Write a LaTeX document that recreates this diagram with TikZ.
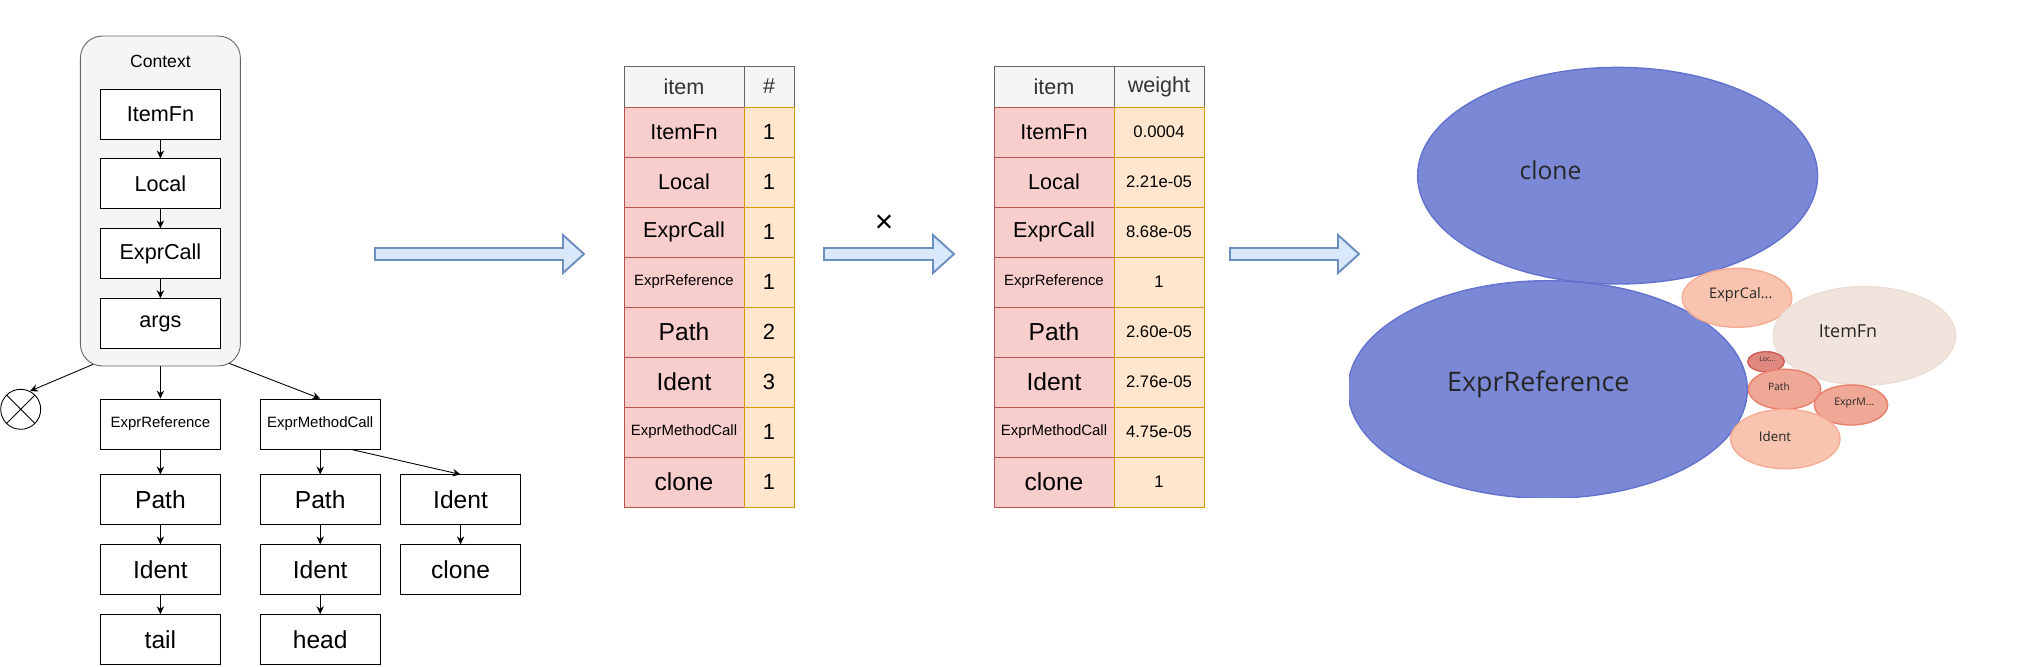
\documentclass[tikz,border=0pt]{standalone}
\usepackage{fontspec}
\setmainfont{Liberation Sans}
\newfontfamily\bubblefont{Open Sans}
\usepackage{tikz}
\usetikzlibrary{positioning}
\usetikzlibrary{arrows.meta}
\definecolor{ctxgray}{RGB}{245,245,245}
\definecolor{ctxborder}{RGB}{102,102,102}
\definecolor{headtext}{RGB}{51,51,51}
\definecolor{cellred}{RGB}{248,206,204}
\definecolor{cellredborder}{RGB}{184,84,80}
\definecolor{cellorange}{RGB}{255,230,204}
\definecolor{cellorangeborder}{RGB}{215,155,0}
\definecolor{arrowfill}{RGB}{218,232,252}
\definecolor{arrowborder}{RGB}{108,142,191}
\definecolor{bubbleblue}{RGB}{123,136,213}
\definecolor{bubbleblueline}{RGB}{98,114,206}
\definecolor{bubblesalmon}{RGB}{248,196,176}
\definecolor{bubblesalmonline}{RGB}{245,172,146}
\definecolor{bubblecoral}{RGB}{240,168,150}
\definecolor{bubblecoralline}{RGB}{232,128,108}
\definecolor{bubblered}{RGB}{224,136,128}
\definecolor{bubbleredline}{RGB}{208,92,88}
\definecolor{bubblebeige}{RGB}{240,228,220}
\definecolor{bubblebeigeline}{RGB}{236,222,212}
\newcommand{\sizept}[1]{\fontsize{#1}{#1}\selectfont}
\newcommand{\widthbox}{2.41cm}
\newcommand{\heightbox}{1cm}
\newcommand{\widthitem}{2.4cm}
\newcommand{\widthcount}{1cm}
\newcommand{\widthweight}{1.8cm}
\newcommand{\heightrow}{1cm}
\newcommand{\heighthead}{0.82cm}
\newcommand{\blockarrow}[2]{%
    \draw[bigarrow] (#1,248) -- ({#2-21},248) -- ({#2-21},235) -- (#2,254)
        -- ({#2-21},273) -- ({#2-21},260) -- (#1,260) -- cycle;}
\tikzset{
    common/.style={draw, rectangle, inner sep=0pt, line width=0.5pt},
    treebox/.style={common, fill=white, minimum width=\widthbox, minimum height=\heightbox},
    ctxbox/.style={common, draw=ctxborder, fill=ctxgray, rounded corners=0.44cm, minimum width=3.2cm, minimum height=6.6cm},
    dropnode/.style={draw, circle, line width=0.5pt, minimum size=0.8cm, inner sep=0pt,
        path picture={
            \draw[line width=0.5pt]
                (path picture bounding box.south east)--(path picture bounding box.north west)
                (path picture bounding box.south west)--(path picture bounding box.north east);
        }
    },
    edge/.style={-{Stealth[length=4.5pt,width=4.2pt]}, line width=0.5pt},
    headcell/.style={common, draw=ctxborder, fill=ctxgray, text=headtext, minimum height=\heighthead, font=\sizept{12.3}},
    itemcell/.style={common, draw=cellredborder, fill=cellred, minimum width=\widthitem, minimum height=\heightrow},
    countcell/.style={common, draw=cellorangeborder, fill=cellorange, minimum height=\heightrow},
    bigarrow/.style={draw=arrowborder, fill=arrowfill, line width=1.1pt},
    bubble/.style={line width=0.8pt},
    bubbletext/.style={inner sep=0pt, text=black!85}
}
\begin{document}
\begin{tikzpicture}[x=0.02cm, y=-0.02cm]
    \useasboundingbox (0,0) rectangle (2035,666);

    \node[ctxbox] (ctx) at (160.4,201) {};
    \node[inner sep=0pt, font=\sizept{10}] (ctxlabel) at (160.4,61) {Context};
    \node[treebox, font=\sizept{12.3}] (fn) at (160.4,114) {ItemFn};
    \node[treebox, font=\sizept{12.3}, below=0.38cm of fn] (local) {Local};
    \node[treebox, font=\sizept{12.3}, below=0.38cm of local] (call) {ExprCall};
    \node[treebox, font=\sizept{12.3}, below=0.38cm of call] (args) {args};

    \node[dropnode] (drop) at (20.7,409.3) {};
    \node[treebox, font=\sizept{8.5}] (eref) at (160.4,424) {ExprReference};
    \node[treebox, font=\sizept{14}, below=0.5cm of eref] (path) {Path};
    \node[treebox, font=\sizept{14}, below=0.38cm of path] (ident) {Ident};
    \node[treebox, font=\sizept{14}, below=0.38cm of ident] (tail) {tail};
    \node[treebox, font=\sizept{8.5}] (emc) at (320.2,424) {ExprMethodCall};
    \node[treebox, font=\sizept{14}, below=0.5cm of emc] (pathb) {Path};
    \node[treebox, font=\sizept{14}, below=0.38cm of pathb] (identb) {Ident};
    \node[treebox, font=\sizept{14}, below=0.38cm of identb] (head) {head};
    \node[treebox, font=\sizept{14}, right=0.38cm of pathb] (identc) {Ident};
    \node[treebox, font=\sizept{14}, below=0.38cm of identc] (clone) {clone};

    \draw[edge] (fn) -- (local);
    \draw[edge] (local) -- (call);
    \draw[edge] (call) -- (args);
    \draw[edge] (ctx) -- (eref);
    \draw[edge] ([xshift=0.26cm, yshift=0.04cm]ctx.south west) -- (drop.63);
    \draw[edge] ([xshift=-0.23cm, yshift=0.06cm]ctx.south east) -- (emc.north);
    \draw[edge] (eref) -- (path);
    \draw[edge] (path) -- (ident);
    \draw[edge] (ident) -- (tail);
    \draw[edge] (emc) -- (pathb);
    \draw[edge] (pathb) -- (identb);
    \draw[edge] (identb) -- (head);
    \draw[edge] ([xshift=0.62cm]emc.south) -- (identc.north);
    \draw[edge] (identc) -- (clone);

    \blockarrow{375}{584}
    \blockarrow{824}{954}
    \blockarrow{1230}{1359}
    \node[inner sep=0pt, font=\sizept{18}] (times) at (884,224) {×};

    \node[headcell, minimum width=\widthitem] (ahead) at (684,86.5) {item};
    \node[headcell, minimum width=\widthcount] (nhead) at (769,86.5) {\#};
    \node[headcell, minimum width=\widthitem] (bhead) at (1054,86.5) {item};
    \node[headcell, minimum width=\widthweight] (whead) at (1159,86.5) {weight};
    \foreach \lbl/\sz/\cnt/\wt [count=\i] in {ItemFn/12.3/1/0.0004, Local/12.3/1/2.21e-05,
        ExprCall/12.3/1/8.68e-05, ExprReference/8.5/1/1, Path/14/2/2.60e-05,
        Ident/14/3/2.76e-05, ExprMethodCall/8.5/1/4.75e-05, clone/14/1/1}
    {
        \node[itemcell, font=\sizept{\sz}] (a\i) at (684,82+50*\i) {\lbl};
        \node[countcell, minimum width=\widthcount, font=\sizept{12.5}] (n\i) at (769,82+50*\i) {\cnt};
        \node[itemcell, font=\sizept{\sz}] (b\i) at (1054,82+50*\i) {\lbl};
        \node[countcell, minimum width=\widthweight, font=\sizept{9.5}] (w\i) at (1159,82+50*\i) {\wt};
    }

    \begin{scope}
        \clip (1349,0) rectangle (2035,497);
        \filldraw[bubble, draw=bubbleblueline, fill=bubbleblue] (1617.6,175.7) ellipse [x radius=200, y radius=108.3];
        \filldraw[bubble, draw=bubbleblueline, fill=bubbleblue] (1547.6,389.5) ellipse [x radius=199.7, y radius=108.8];
        \filldraw[bubble, draw=bubblesalmonline, fill=bubblesalmon] (1737,297.8) ellipse [x radius=54.8, y radius=29.5];
        \filldraw[bubble, draw=bubblebeigeline, fill=bubblebeige] (1864.4,335.8) ellipse [x radius=91.3, y radius=49.2];
        \filldraw[bubble, draw=bubbleredline, fill=bubblered] (1766,361.7) ellipse [x radius=18.3, y radius=10];
        \filldraw[bubble, draw=bubblecoralline, fill=bubblecoral] (1784.5,389.3) ellipse [x radius=36.2, y radius=20];
        \filldraw[bubble, draw=bubblecoralline, fill=bubblecoral] (1851,405) ellipse [x radius=36.7, y radius=20];
        \filldraw[bubble, draw=bubblesalmonline, fill=bubblesalmon] (1785.3,439) ellipse [x radius=54.7, y radius=29.7];
    \end{scope}
    \node[bubbletext, font=\bubblefont\sizept{14}] (tclone) at (1550.5,170) {clone};
    \node[bubbletext, font=\bubblefont\sizept{15.3}] (teref) at (1538.3,384) {ExprReference};
    \node[bubbletext, font=\bubblefont\sizept{8.3}] (tcall) at (1740.8,295) {ExprCal...};
    \node[bubbletext, font=\bubblefont\sizept{10.2}] (tfn) at (1848,331) {ItemFn};
    \node[bubbletext, font=\bubblefont\sizept{3.8}] (tlocal) at (1767.3,359.5) {Loc...};
    \node[bubbletext, font=\bubblefont\sizept{5.8}] (tpath) at (1779,387) {Path};
    \node[bubbletext, font=\bubblefont\sizept{6}] (temc) at (1854.3,402.5) {ExprM...};
    \node[bubbletext, font=\bubblefont\sizept{7.6}] (tident) at (1775,436) {Ident};
\end{tikzpicture}
\end{document}
